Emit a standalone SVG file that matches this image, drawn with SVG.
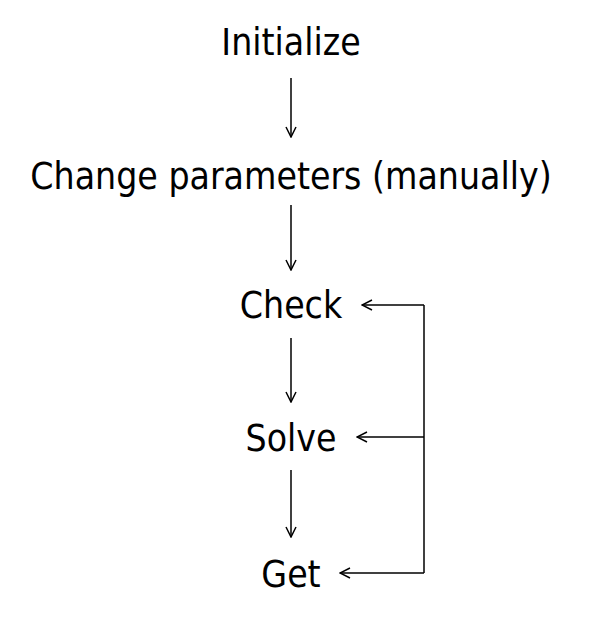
<svg xmlns="http://www.w3.org/2000/svg" width="600" height="626" viewBox="0 0 600 626">
<style>
text{font-family:"DejaVu Sans Condensed","DejaVu Sans",sans-serif;font-size:37px;fill:#000;text-anchor:middle}
.c{stroke:#000;stroke-width:1.5;fill:none}
</style>
<defs><marker id="a" viewBox="0 0 12 12" refX="11" refY="6" markerWidth="12" markerHeight="12" markerUnits="userSpaceOnUse" orient="auto"><path d="M1,1 L11,6 L1,11" fill="none" stroke="#000" stroke-width="1.5"/></marker></defs>
<rect width="600" height="626" fill="#fff"/>
<g id="n1"><text x="291" y="55">Initialize</text></g>
<g id="n2"><text x="291" y="189">Change parameters (manually)</text></g>
<g id="n3"><text x="291" y="318">Check</text></g>
<g id="n4"><text x="291" y="451">Solve</text></g>
<g id="n5"><text x="291" y="587">Get</text></g>
<g id="connectors">
<path class="c" d="M291,78V137" marker-end="url(#a)"/>
<path class="c" d="M291,205V270" marker-end="url(#a)"/>
<path class="c" d="M291,338V402" marker-end="url(#a)"/>
<path class="c" d="M291,470V537" marker-end="url(#a)"/>
<path class="c" d="M424,305V573"/>
<path class="c" d="M424,305H362" marker-end="url(#a)"/>
<path class="c" d="M424,437H357" marker-end="url(#a)"/>
<path class="c" d="M424,573H340" marker-end="url(#a)"/>
</g>
</svg>
